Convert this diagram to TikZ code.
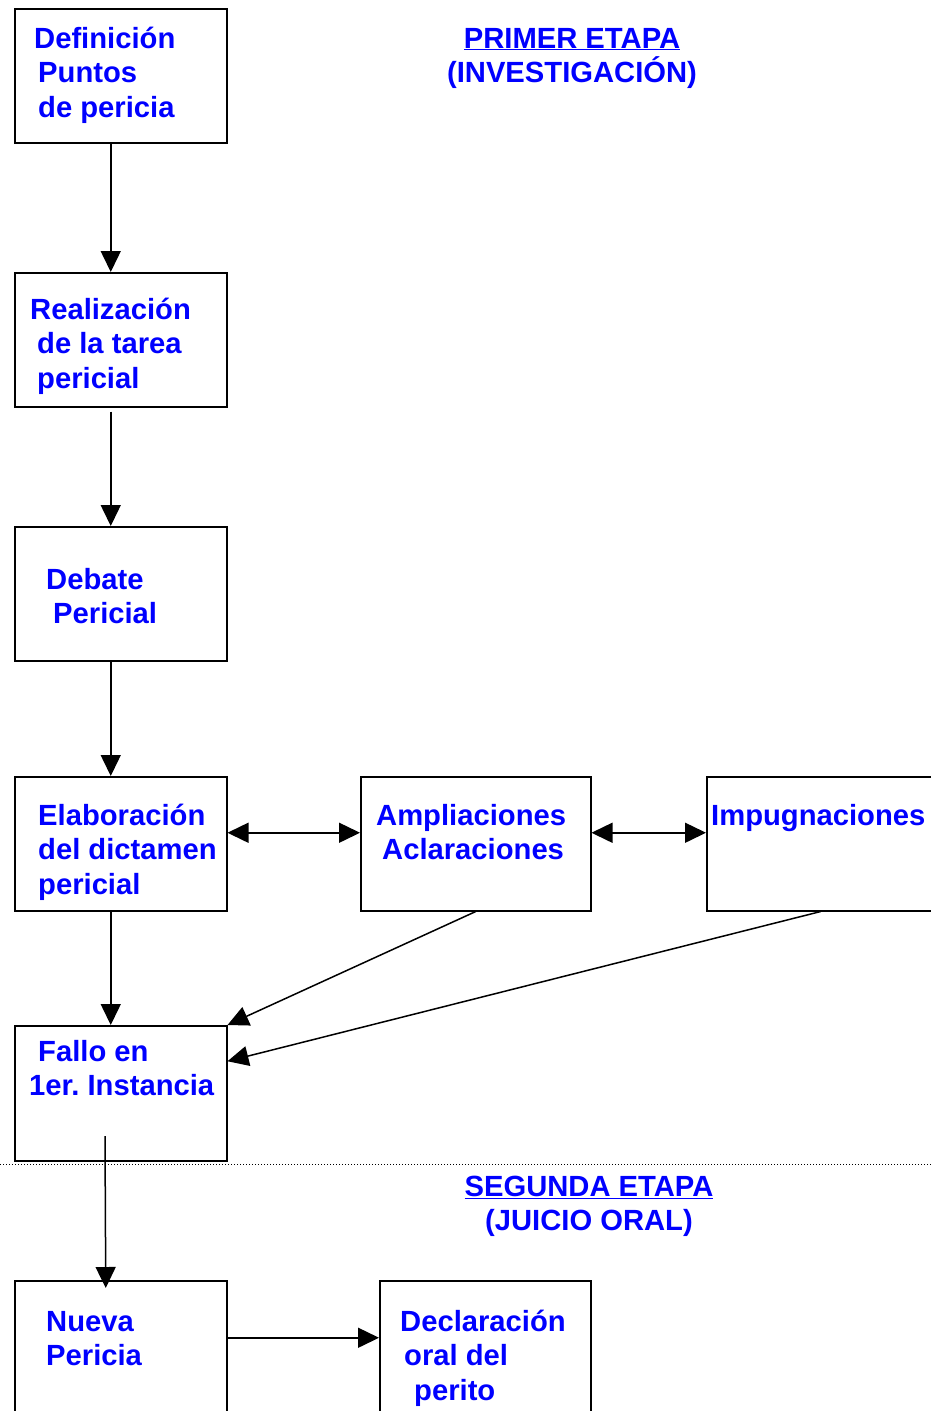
\documentclass[tikz,border=0pt]{standalone}
\usepackage{fontspec}
\setmainfont{Liberation Sans}
\usetikzlibrary{arrows.meta}
\begin{document}
\begin{tikzpicture}[x=1pt,y=-1pt,>={Triangle[length=21pt,width=20pt]},
    caja/.style={draw,line width=1.5pt,minimum width=212pt,minimum height=134pt,anchor=north west,inner sep=0pt},
    texto/.style={anchor=north west,inner sep=0pt,align=left,text=blue,font=\fontsize{29.2}{34.5}\selectfont\bfseries},
    titulo/.style={anchor=north,inner sep=0pt,align=center,text=blue,font=\fontsize{29.2}{34.5}\selectfont\bfseries},
    flecha/.style={->,line width=1.5pt}]
                \useasboundingbox (0,0) rectangle (931,1411);
                % cajas
                \node[caja] (def) at (14,8) {};
                \node[caja] (real) at (14,272) {};
                \node[caja] (deb) at (14,526) {};
                \node[caja] (elab) at (14,776) {};
                \node[caja,minimum width=230pt] (ampl) at (360,776) {};
                \node[caja,minimum width=228pt] (impug) at (706,776) {};
                \node[caja,minimum height=135pt] (fallo) at (14,1025) {};
                \node[caja] (nueva) at (14,1280) {};
                \node[caja,minimum width=211pt] (decl) at (379,1280) {};
                % textos
                \node[texto] (def-t) at (34,26) {\rule{0pt}{22pt}Definición\\\hspace*{4pt}Puntos\\\hspace*{4pt}de pericia};
                \node[texto] (real-t) at (30,297) {\rule{0pt}{22pt}Realización\\\hspace*{7pt}de la tarea\\\hspace*{7pt}pericial};
                \node[texto] (deb-t) at (46,567) {\rule{0pt}{22pt}Debate\\\hspace*{7pt}Pericial};
                \node[texto] (elab-t) at (38,803) {\rule{0pt}{22pt}Elaboración\\del dictamen\\pericial};
                \node[texto] (ampl-t) at (376,803) {\rule{0pt}{22pt}Ampliaciones\\\hspace*{6pt}Aclaraciones};
                \node[texto] (impug-t) at (711,803) {\rule{0pt}{22pt}Impugnaciones};
                \node[texto] (fallo-t) at (29,1039) {\rule{0pt}{22pt}\hspace*{9pt}Fallo en\\1er.\ Instancia};
                \node[texto] (nueva-t) at (46,1309) {\rule{0pt}{22pt}Nueva\\Pericia};
                \node[texto] (decl-t) at (400,1309) {\rule{0pt}{22pt}Declaración\\\hspace*{4pt}oral del\\\hspace*{14pt}perito};
                \node[titulo] (etapa1) at (572,26) {\rule{0pt}{22pt}\underline{PRIMER ETAPA}\\(INVESTIGACIÓN)};
                \node[titulo] (etapa2) at (589,1174) {\rule{0pt}{22pt}\underline{SEGUNDA ETAPA}\\(JUICIO ORAL)};
                \draw[dotted,line width=1pt] (0,1164) -- (931,1164);
                % flechas
                \draw[flecha] ([xshift=-10pt]def.south) -- ([xshift=-10pt]real.north);
                \draw[flecha] ([xshift=-10pt,yshift=-4pt]real.south) -- ([xshift=-10pt]deb.north);
                \draw[flecha] ([xshift=-10pt]deb.south) -- ([xshift=-10pt]elab.north);
                \draw[flecha] ([xshift=-10pt]elab.south) -- ([xshift=-10pt]fallo.north);
                \draw[<->,line width=1.5pt] ([yshift=11pt]elab.east) -- ([yshift=11pt]ampl.west);
                \draw[<->,line width=1.5pt] ([yshift=11pt]ampl.east) -- ([yshift=11pt]impug.west);
                \draw[flecha] (ampl.south) -- (fallo.north east);
                \draw[flecha] (impug.south) -- ([yshift=32pt]fallo.east);
                \coordinate (fallo-in) at (105,1136);
                \draw[flecha] (fallo-in) -- ([xshift=-15pt,yshift=-8pt]nueva.north);
                \draw[flecha] ([yshift=10pt]nueva.east) -- ([yshift=10pt]decl.west);
\end{tikzpicture}
\end{document}
